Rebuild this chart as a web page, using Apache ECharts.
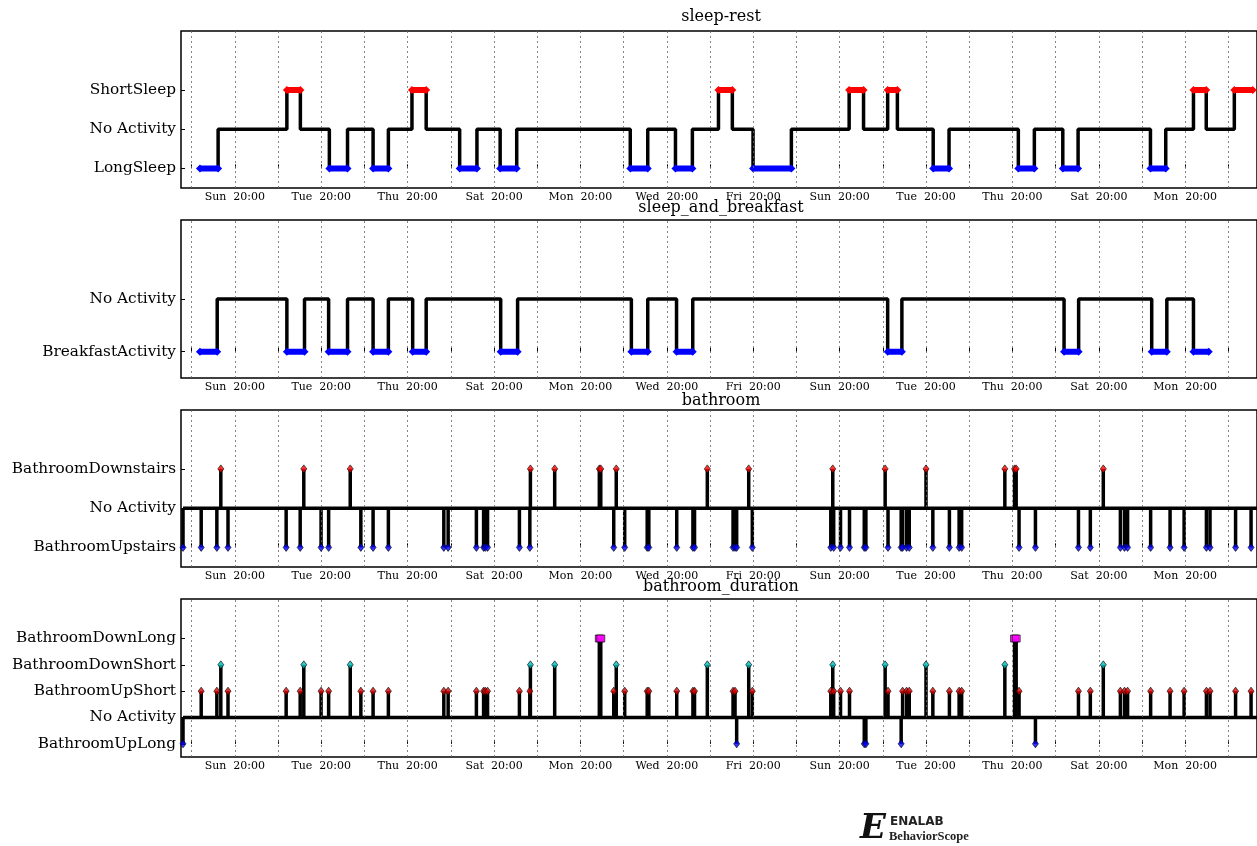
<!DOCTYPE html>
<html>
<head>
<meta charset="utf-8">
<script src="https://cdn.jsdelivr.net/npm/echarts@6/dist/echarts.min.js"></script>
<style>
html,body{margin:0;padding:0;background:#fff;}
#chart{width:1257px;height:846px;}
</style>
</head>
<body>
<div id="chart"></div>
<script>
// ---- time axis (hours since the first Saturday 00:00) ----
const X_MIN = 14.08;
const X_MAX = 611.9;
const gridHours = [20,44,68,92,116,140,164,188,212,236,260,284,308,332,356,380,404,428,452,476,500,524,548,572,596];
const xTickHours = [44,92,140,188,236,284,332,380,428,476,524,572];
const xTickLabels = ['Sun  20:00','Tue  20:00','Thu  20:00','Sat  20:00','Mon  20:00','Wed  20:00','Fri  20:00','Sun  20:00','Tue  20:00','Thu  20:00','Sat  20:00','Mon  20:00'];

// ---- panel titles ----
const panelTitles = ['sleep-rest','sleep_and_breakfast','bathroom','bathroom_duration'];

// ---- y levels (bottom to top) ----
const sleepLevels = ['LongSleep','No Activity','ShortSleep'];
const breakfastLevels = ['BreakfastActivity','No Activity'];
const bathLevels = ['BathroomUpstairs','No Activity','BathroomDownstairs'];
const durationLevels = ['BathroomUpLong','No Activity','BathroomUpShort','BathroomDownShort','BathroomDownLong'];

// ---- sleep-rest: change times and the state that starts at each time ----
const sleepTimes = [24.6,34.7,72.9,80.4,96.5,106.6,120.8,129.3,142.4,150.3,168.9,178.5,191.4,200.6,263.7,273.4,288.8,298.2,312.7,320.4,331.9,353.2,385.3,393.3,406.7,412.1,432.0,440.8,479.3,488.2,504.0,512.5,552.7,561.2,576.6,583.7,599.3,609.5];
const sleepStates = ['LongSleep','No Activity','ShortSleep','No Activity','LongSleep','No Activity','LongSleep','No Activity','ShortSleep','No Activity','LongSleep','No Activity','LongSleep','No Activity','LongSleep','No Activity','LongSleep','No Activity','ShortSleep','No Activity','LongSleep','No Activity','ShortSleep','No Activity','ShortSleep','No Activity','LongSleep','No Activity','LongSleep','No Activity','LongSleep','No Activity','LongSleep','No Activity','ShortSleep','No Activity','ShortSleep'];

// ---- sleep_and_breakfast ----
const breakfastTimes = [24.6,34.2,72.9,82.7,96.1,106.6,120.8,129.3,142.8,150.3,191.7,201.1,264.3,273.4,289.4,298.4,406.7,414.6,504.7,512.8,553.4,561.8,576.6,585.1];
const breakfastStates = ['BreakfastActivity','No Activity','BreakfastActivity','No Activity','BreakfastActivity','No Activity','BreakfastActivity','No Activity','BreakfastActivity','No Activity','BreakfastActivity','No Activity','BreakfastActivity','No Activity','BreakfastActivity','No Activity','BreakfastActivity','No Activity','BreakfastActivity','No Activity','BreakfastActivity','No Activity','BreakfastActivity'];

// ---- bathroom events ----
const bathTimes = [15.2,25.3,34.0,36.2,40.2,72.5,80.3,82.3,91.9,96.1,108.1,114.0,120.8,129.3,160.1,162.5,178.2,182.2,183.1,184.4,202.1,207.9,208.2,221.7,246.5,247.3,254.5,255.9,260.6,273.1,274.0,289.5,298.5,299.4,306.5,320.8,321.9,322.8,329.5,331.5,375.1,376.2,376.7,380.5,385.5,393.7,394.6,405.3,406.9,414.2,415.0,417.2,418.7,428.0,431.8,441.0,446.4,447.8,471.8,477.2,478.1,479.7,488.8,512.7,519.3,526.5,536.0,538.3,540.0,552.8,563.6,571.4,583.8,585.8,600.0,608.6];
const bathStates = ['U','U','U','D','U','U','U','D','U','U','D','U','U','U','U','U','U','U','U','U','U','U','D','D','D','D','U','D','U','U','U','U','U','U','D','U','U','U','D','U','U','D','U','U','U','U','U','D','U','U','U','U','U','D','U','U','U','U','D','D','D','U','U','U','U','D','U','U','U','U','U','U','U','U','U','U'];
const durationStates = ['UL','US','US','DS','US','US','US','DS','US','US','DS','US','US','US','US','US','US','US','US','US','US','US','DS','DS','DL','DL','US','DS','US','US','US','US','US','US','DS','US','US','UL','DS','US','US','DS','US','US','US','UL','UL','DS','US','UL','US','US','US','DS','US','US','US','US','DS','DL','DL','US','UL','US','US','DS','US','US','US','US','US','US','US','US','US','US'];
const bathNames = {U:'BathroomUpstairs', D:'BathroomDownstairs'};
const durationNames = {UL:'BathroomUpLong', US:'BathroomUpShort', DS:'BathroomDownShort', DL:'BathroomDownLong'};

// ---- styling ----
const SERIF = '"DejaVu Serif", serif';
const grids = [
  {left:181, top:31, width:1081, height:157},
  {left:181, top:220, width:1081, height:158},
  {left:181, top:410, width:1081, height:157},
  {left:181, top:599, width:1081, height:158}
];
const yRanges = [[-0.5,3.5],[-0.5,2.5],[-0.5,3.5],[-0.5,5.5]];
const titleTops = [9, 200, 393, 579];

const labelMap = {};
xTickHours.forEach((h,i)=>{ labelMap[h] = xTickLabels[i]; });

function xAxisFor(i){
  return {
    type:'value', gridIndex:i, min:X_MIN, max:X_MAX,
    axisLine:{show:false},
    axisTick:{show:true, inside:true, length:4, customValues:gridHours, lineStyle:{color:'#000', width:1}},
    axisLabel:{show:true, customValues:xTickHours, formatter:v=>labelMap[Math.round(v)]||'', color:'#000', fontFamily:SERIF, fontSize:11, margin:4},
    splitLine:{show:false}
  };
}
function yAxisFor(i, levels){
  const idx = levels.map((_,k)=>k);
  return {
    type:'value', gridIndex:i, min:yRanges[i][0], max:yRanges[i][1],
    axisLine:{show:false},
    axisTick:{show:true, inside:true, length:4, customValues:idx, lineStyle:{color:'#000', width:1}},
    axisLabel:{customValues:idx, formatter:v=>levels[Math.round(v)]||'', color:'#000', fontFamily:SERIF, fontSize:15.3, margin:5},
    splitLine:{show:false}
  };
}
function gridLines(i){
  return {
    type:'line', xAxisIndex:i, yAxisIndex:i, data:[], silent:true, z:1,
    markLine:{silent:true, symbol:['none','none'], label:{show:false}, animation:false,
      lineStyle:{color:'#666', type:[2,3], width:0.8},
      data: gridHours.map(h=>({xAxis:h}))}
  };
}
function stepData(times, states, levels){
  const pts = states.map((s,i)=>[times[i], levels.indexOf(s)]);
  pts.push([times[times.length-1], levels.indexOf(states[states.length-1])]);
  return pts;
}
function segData(times, states, levels, state){
  const pts = [];
  states.forEach((s,i)=>{
    if (s===state){
      const y = levels.indexOf(s);
      pts.push([times[i], y], [times[i+1], y], [times[i+1], '-']);
    }
  });
  return pts;
}
function eventData(times, states, names, levels){
  return times.map((t,i)=>[t, levels.indexOf(names[states[i]])]);
}
function markerData(times, states, names, levels, key){
  const pts = [];
  times.forEach((t,i)=>{ if (states[i]===key) pts.push([t, levels.indexOf(names[key])]); });
  return pts;
}
function spikeSeries(i, data, base){
  return {
    type:'custom', xAxisIndex:i, yAxisIndex:i, data:data, z:3, silent:true,
    renderItem:(params, api)=>{
      const p0 = api.coord([api.value(0), base]);
      const p1 = api.coord([api.value(0), api.value(1)]);
      return {type:'line', shape:{x1:p0[0], y1:p0[1], x2:p1[0], y2:p1[1]},
        style:{stroke:'#000', lineWidth:3.5, lineCap:'butt'}};
    }
  };
}
function baseLine(i, start, base){
  return {type:'line', xAxisIndex:i, yAxisIndex:i, data:[[start, base],[X_MAX, base]], showSymbol:false, lineStyle:{color:'#000', width:3.5}, z:3};
}

const series = [];
for (let i=0;i<4;i++) series.push(gridLines(i));

// panel 1
series.push({type:'line', xAxisIndex:0, yAxisIndex:0, step:'end', data:stepData(sleepTimes, sleepStates, sleepLevels), showSymbol:false, lineStyle:{color:'#000', width:3.5}, z:3});
series.push({type:'line', xAxisIndex:0, yAxisIndex:0, data:segData(sleepTimes, sleepStates, sleepLevels, 'LongSleep'), symbol:'diamond', symbolSize:8, showSymbol:true, itemStyle:{color:'#0000ff'}, lineStyle:{color:'#0000ff', width:6}, z:4});
series.push({type:'line', xAxisIndex:0, yAxisIndex:0, data:segData(sleepTimes, sleepStates, sleepLevels, 'ShortSleep'), symbol:'diamond', symbolSize:8, showSymbol:true, itemStyle:{color:'#ff0000'}, lineStyle:{color:'#ff0000', width:6}, z:4});

// panel 2
series.push({type:'line', xAxisIndex:1, yAxisIndex:1, step:'end', data:stepData(breakfastTimes, breakfastStates, breakfastLevels), showSymbol:false, lineStyle:{color:'#000', width:3.5}, z:3});
series.push({type:'line', xAxisIndex:1, yAxisIndex:1, data:segData(breakfastTimes, breakfastStates, breakfastLevels, 'BreakfastActivity'), symbol:'diamond', symbolSize:8, showSymbol:true, itemStyle:{color:'#0000ff'}, lineStyle:{color:'#0000ff', width:6}, z:4});

// panel 3
const bathBase = bathLevels.indexOf('No Activity');
series.push(baseLine(2, bathTimes[0], bathBase));
series.push(spikeSeries(2, eventData(bathTimes, bathStates, bathNames, bathLevels), bathBase));
[['U','#0000ff'],['D','#ff0000']].forEach(([k,c])=>{
  series.push({type:'scatter', xAxisIndex:2, yAxisIndex:2, data:markerData(bathTimes, bathStates, bathNames, bathLevels, k), symbol:'diamond', symbolSize:[6,8], itemStyle:{color:c, borderColor:'#000', borderWidth:0.8}, z:5});
});

// panel 4
const durBase = durationLevels.indexOf('No Activity');
series.push(baseLine(3, bathTimes[0], durBase));
series.push(spikeSeries(3, eventData(bathTimes, durationStates, durationNames, durationLevels), durBase));
[['UL','#0000ff','diamond'],['US','#dd0000','diamond'],['DS','#00bfbf','diamond'],['DL','#ff00ff','rect']].forEach(([k,c,sym])=>{
  series.push({type:'scatter', xAxisIndex:3, yAxisIndex:3, data:markerData(bathTimes, durationStates, durationNames, durationLevels, k), symbol:sym, symbolSize:sym==='rect'?[8,7]:[6,8], itemStyle:{color:c, borderColor:'#000', borderWidth:0.8}, z:5});
});

const chart = echarts.init(document.getElementById('chart'), null, {renderer:'canvas'});
chart.setOption({
  animation:false,
  backgroundColor:'#fff',
  title: panelTitles.map((t,i)=>({text:t, left:721, top:titleTops[i], textAlign:'center', padding:0,
    textStyle:{fontFamily:SERIF, fontSize:16, fontWeight:'normal', color:'#000'}})),
  grid: grids.map(g=>Object.assign({show:true, borderColor:'#000', borderWidth:1.5, backgroundColor:'transparent', containLabel:false}, g)),
  xAxis:[0,1,2,3].map(xAxisFor),
  yAxis:[0,1,2,3].map(i=>yAxisFor(i,[sleepLevels,breakfastLevels,bathLevels,durationLevels][i])),
  series: series,
  graphic:[
    {type:'text', left:860, top:812, style:{text:'E', font:'italic bold 34px "DejaVu Serif", serif', fill:'#111'}},
    {type:'text', left:890, top:816, style:{text:'ENALAB', font:'bold 12px "DejaVu Sans", sans-serif', fill:'#222'}},
    {type:'text', left:889, top:830, style:{text:'BehaviorScope', font:'bold 12.5px "Liberation Serif", serif', fill:'#222'}}
  ]
});
</script>
</body>
</html>
